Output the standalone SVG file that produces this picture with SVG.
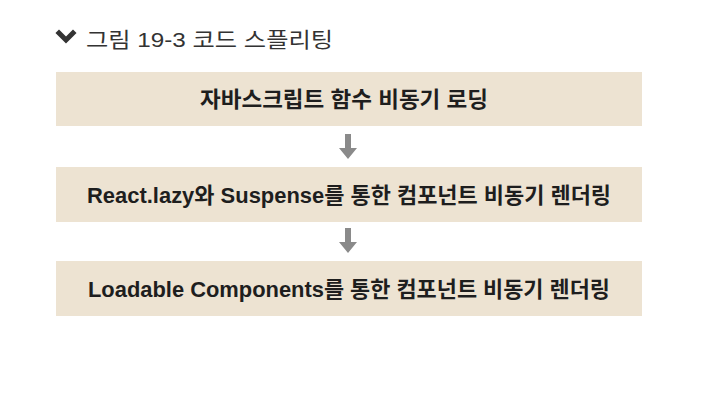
<svg xmlns="http://www.w3.org/2000/svg" width="710" height="400" viewBox="0 0 710 400">
<defs>
<style>
.box{fill:#ede3d2;}
.lbl{font-family:"Liberation Sans","Noto Sans CJK KR",sans-serif;font-size:22px;font-weight:bold;fill:#1e1e1e;}
.title{font-family:"Liberation Sans","Noto Sans CJK KR",sans-serif;font-size:21px;fill:#333;}
.arr{fill:#8a8a8a;}
</style>
</defs>
<rect width="710" height="400" fill="#ffffff"/>
<g id="title">
<path d="M59,33 L66,40 L73,33" fill="none" stroke="#333" stroke-width="5" stroke-linecap="square"/>
<text class="title" x="86" y="47" textLength="247" lengthAdjust="spacingAndGlyphs">그림 19-3  코드 스플리팅</text>
</g>
<g id="node1">
<rect class="box" x="56" y="72" width="586" height="54"/>
<text class="lbl" x="200" y="107" textLength="288" lengthAdjust="spacingAndGlyphs">자바스크립트 함수 비동기 로딩</text>
</g>
<g id="node2">
<rect class="box" x="56" y="167" width="586" height="55"/>
<text class="lbl" x="87" y="203" textLength="524" lengthAdjust="spacingAndGlyphs">React.lazy와 Suspense를 통한 컴포넌트 비동기 렌더링</text>
</g>
<g id="node3">
<rect class="box" x="56" y="261" width="586" height="55"/>
<text class="lbl" x="88" y="297" textLength="522" lengthAdjust="spacingAndGlyphs">Loadable Components를 통한 컴포넌트 비동기 렌더링</text>
</g>
<g id="connectors">
<path class="arr" d="M345,134 L351,134 L351,148 L357,148 L348,159 L339,148 L345,148 Z"/>
<path class="arr" d="M345,228 L351,228 L351,242 L357,242 L348,253 L339,242 L345,242 Z"/>
</g>
</svg>
